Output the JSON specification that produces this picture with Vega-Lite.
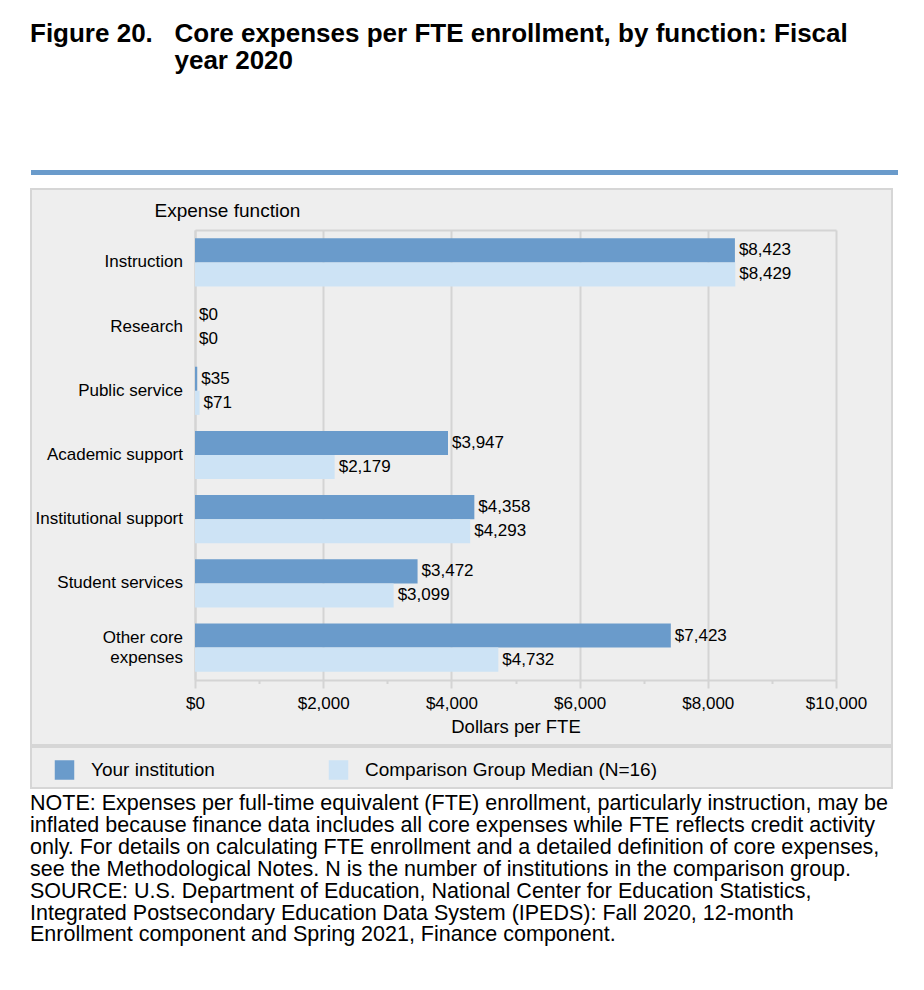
{
  "$schema": "https://vega.github.io/schema/vega-lite/v6.json",
  "padding": {"left": 30, "top": 20, "right": 0, "bottom": 0},
  "background": "white",
  "title": {
    "text": ["Figure 20.\u00a0\u00a0\u00a0Core expenses per FTE enrollment, by function: Fiscal", "\u200b\u00a0\u00a0\u00a0\u00a0\u00a0\u00a0\u00a0\u00a0\u00a0\u00a0\u00a0\u00a0\u00a0\u00a0\u00a0\u00a0\u00a0\u00a0\u00a0\u00a0year 2020"],
    "anchor": "start",
    "font": "Liberation Sans",
    "fontSize": 26,
    "fontWeight": "bold",
    "color": "#000000",
    "lineHeight": 27,
    "offset": 96
  },
  "datasets": {
    "expenses": [
      {"function": "Instruction", "series": "Your institution", "value": 8423},
      {"function": "Instruction", "series": "Comparison Group Median (N=16)", "value": 8429},
      {"function": "Research", "series": "Your institution", "value": 0},
      {"function": "Research", "series": "Comparison Group Median (N=16)", "value": 0},
      {"function": "Public service", "series": "Your institution", "value": 35},
      {"function": "Public service", "series": "Comparison Group Median (N=16)", "value": 71},
      {"function": "Academic support", "series": "Your institution", "value": 3947},
      {"function": "Academic support", "series": "Comparison Group Median (N=16)", "value": 2179},
      {"function": "Institutional support", "series": "Your institution", "value": 4358},
      {"function": "Institutional support", "series": "Comparison Group Median (N=16)", "value": 4293},
      {"function": "Student services", "series": "Your institution", "value": 3472},
      {"function": "Student services", "series": "Comparison Group Median (N=16)", "value": 3099},
      {"function": "Other core expenses", "series": "Your institution", "value": 7423},
      {"function": "Other core expenses", "series": "Comparison Group Median (N=16)", "value": 4732}
    ],
    "legendItems": [
      {"series": "Your institution"},
      {"series": "Comparison Group Median (N=16)"}
    ]
  },
  "spacing": 13,
  "vconcat": [
    {
      "width": 867,
      "height": 5,
      "view": {"fill": "#6a9bcb", "stroke": null},
      "data": {"values": [{}]},
      "mark": {"type": "rule", "opacity": 0},
      "encoding": {}
    },
    {
      "spacing": 0,
      "title": {
        "text": [
          "NOTE: Expenses per full-time equivalent (FTE) enrollment, particularly instruction, may be",
          "inflated because finance data includes all core expenses while FTE reflects credit activity",
          "only. For details on calculating FTE enrollment and a detailed definition of core expenses,",
          "see the Methodological Notes. N is the number of institutions in the comparison group.",
          "SOURCE: U.S. Department of Education, National Center for Education Statistics,",
          "Integrated Postsecondary Education Data System (IPEDS): Fall 2020, 12-month",
          "Enrollment component and Spring 2021, Finance component."
        ],
        "orient": "bottom",
        "anchor": "start",
        "font": "Liberation Sans",
        "fontSize": 21.5,
        "fontWeight": "normal",
        "color": "#000000",
        "lineHeight": 21.9,
        "offset": 4
      },
      "vconcat": [
        {
          "width": 861,
          "height": 556,
          "view": {"fill": "#eeeeee", "stroke": "#d6d6d6", "strokeWidth": 2},
          "data": {"name": "expenses"},
          "resolve": {"axis": {"x": "independent"}},
          "layer": [
            {
              "mark": {"type": "bar"},
              "encoding": {
                "y": {
                  "field": "function",
                  "type": "nominal",
                  "sort": ["Instruction", "Research", "Public service", "Academic support", "Institutional support", "Student services", "Other core expenses"],
                  "scale": {"range": [41, 491], "paddingInner": 0.25, "paddingOuter": 0.13},
                  "axis": {
                    "orient": "left",
                    "offset": -164,
                    "ticks": false,
                    "domain": true,
                    "domainColor": "#d4d4d4",
                    "domainWidth": 2,
                    "labelFont": "Liberation Sans",
                    "labelFontSize": 17,
                    "labelColor": "#000000",
                    "labelPadding": 12.5,
                    "labelLimit": 300,
                    "labelLineHeight": 20,
                    "labelOffset": {"condition": {"test": "datum.value === 'Other core expenses'", "value": -10}, "value": 0},
                    "labelExpr": "datum.value === 'Other core expenses' ? ['Other core', 'expenses'] : datum.label",
                    "title": "Expense function",
                    "titleAngle": 0,
                    "titleX": -41,
                    "titleY": 27,
                    "titleAlign": "left",
                    "titleBaseline": "alphabetic",
                    "titleFont": "Liberation Sans",
                    "titleFontSize": 19,
                    "titleFontWeight": "normal",
                    "titleColor": "#000000"
                  }
                },
                "yOffset": {
                  "field": "series",
                  "type": "nominal",
                  "scale": {"domain": ["Your institution", "Comparison Group Median (N=16)"], "paddingInner": 0, "paddingOuter": 0}
                },
                "x": {
                  "field": "value",
                  "type": "quantitative",
                  "scale": {"domain": [0, 10000], "range": [164, 805], "nice": false},
                  "axis": {
                    "orient": "bottom",
                    "offset": -65,
                    "values": [0, 1000, 2000, 3000, 4000, 5000, 6000, 7000, 8000, 9000, 10000],
                    "format": "$,.0f",
                    "labelExpr": "datum.value % 2000 === 0 ? datum.label : ''",
                    "labelFont": "Liberation Sans",
                    "labelFontSize": 17,
                    "labelColor": "#000000",
                    "labelPadding": 7,
                    "labelFlush": false,
                    "labelOverlap": false,
                    "ticks": true,
                    "tickColor": "#d4d4d4",
                    "tickWidth": 2,
                    "tickSize": {"condition": {"test": "datum.value % 2000 === 0", "value": 8}, "value": 3.5},
                    "grid": false,
                    "domain": true,
                    "domainColor": "#d4d4d4",
                    "domainWidth": 2,
                    "title": "Dollars per FTE",
                    "titleFont": "Liberation Sans",
                    "titleFontSize": 18.5,
                    "titleFontWeight": "normal",
                    "titleColor": "#000000",
                    "titlePadding": 6
                  }
                },
                "color": {
                  "field": "series",
                  "type": "nominal",
                  "scale": {"domain": ["Your institution", "Comparison Group Median (N=16)"], "range": ["#6a9bcb", "#cde3f5"]},
                  "legend": null
                }
              }
            },
            {
              "mark": {"type": "text", "align": "left", "baseline": "middle", "dx": 4, "font": "Liberation Sans", "fontSize": 17, "color": "#000000"},
              "encoding": {
                "y": {
                  "field": "function",
                  "type": "nominal",
                  "sort": ["Instruction", "Research", "Public service", "Academic support", "Institutional support", "Student services", "Other core expenses"]
                },
                "yOffset": {
                  "field": "series",
                  "type": "nominal",
                  "scale": {"domain": ["Your institution", "Comparison Group Median (N=16)"]}
                },
                "x": {
                  "field": "value",
                  "type": "quantitative",
                  "axis": {
                    "orient": "top",
                    "offset": -41,
                    "values": [0, 2000, 4000, 6000, 8000, 10000],
                    "labels": false,
                    "ticks": false,
                    "grid": true,
                    "gridColor": "#d4d4d4",
                    "gridWidth": 2,
                    "title": null,
                    "domain": true,
                    "domainColor": "#d4d4d4",
                    "domainWidth": 2
                  }
                },
                "text": {"field": "value", "type": "quantitative", "format": "$,.0f"}
              }
            }
          ]
        },
        {
          "width": 861,
          "height": 41,
          "view": {"fill": "#eeeeee", "stroke": "#d6d6d6", "strokeWidth": 2},
          "data": {"name": "legendItems"},
          "encoding": {
            "x": {
              "field": "series",
              "type": "nominal",
              "scale": {"type": "point", "domain": ["Your institution", "Comparison Group Median (N=16)"], "range": [33.5, 307.5], "padding": 0},
              "axis": null
            }
          },
          "layer": [
            {
              "mark": {"type": "square", "size": 380, "opacity": 1, "filled": true, "yOffset": 2.5},
              "encoding": {
                "color": {
                  "field": "series",
                  "type": "nominal",
                  "scale": {"domain": ["Your institution", "Comparison Group Median (N=16)"], "range": ["#6a9bcb", "#cde3f5"]},
                  "legend": null
                }
              }
            },
            {
              "mark": {"type": "text", "align": "left", "baseline": "middle", "dx": 26.5, "yOffset": 2.5, "font": "Liberation Sans", "fontSize": 19, "color": "#000000"},
              "encoding": {
                "text": {"field": "series", "type": "nominal"}
              }
            }
          ]
        }
      ]
    }
  ],
  "config": {
    "font": "Liberation Sans",
    "view": {"stroke": null}
  }
}
